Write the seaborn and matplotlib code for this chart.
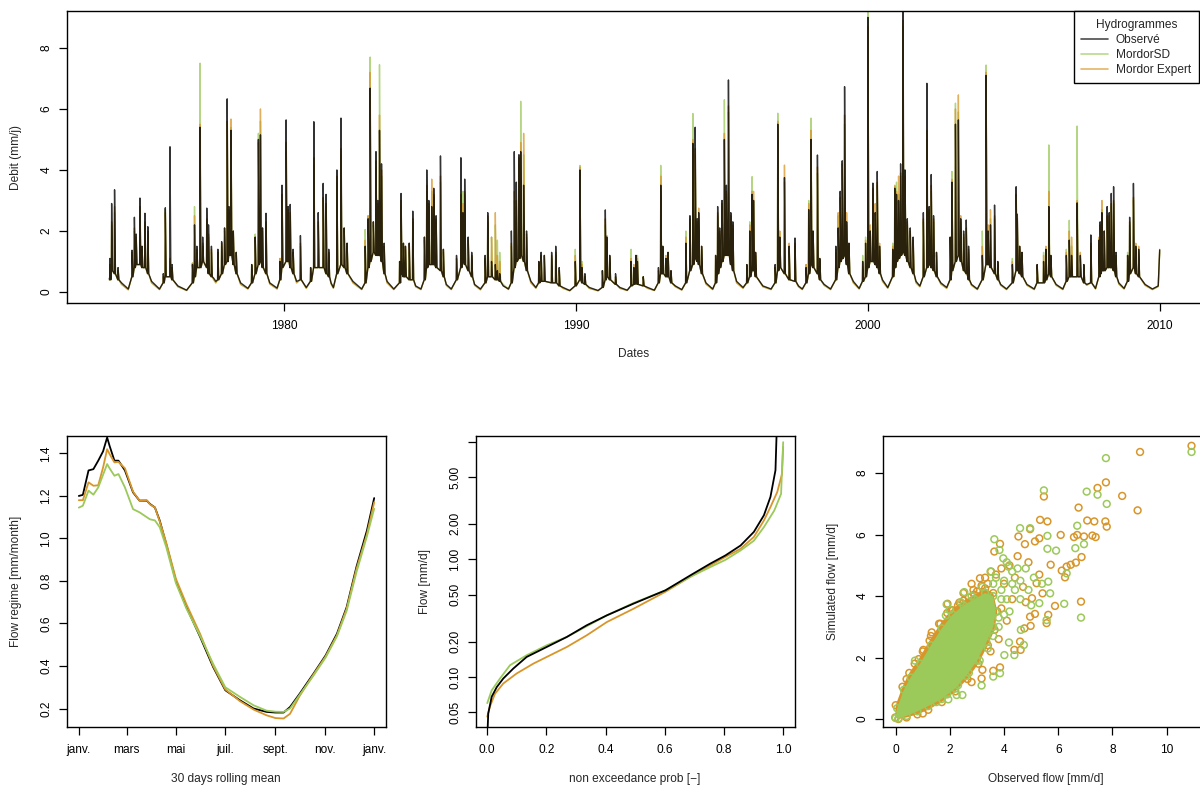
import numpy as np
import pandas as pd
import matplotlib
matplotlib.use("Agg")
import matplotlib.pyplot as plt
from matplotlib.lines import Line2D
import seaborn as sns

# ─────────────────────────────────────────────
# Couleurs
# ─────────────────────────────────────────────
C_OBS = "black"
C_SD = "#9BC95A"
C_EXP = "#D8962A"

# ─────────────────────────────────────────────
# Hydrogrammes : crues (date, pic obs / MordorSD / Mordor Expert, débit de base)
# ─────────────────────────────────────────────
ev_t = [
    1974.02, 1974.08, 1974.18, 1974.30, 1974.78, 1974.86, 1974.92, 1975.05, 1975.12, 1975.22, 1975.32,
    1975.85, 1975.92, 1976.08, 1976.15,
    1976.85, 1976.92, 1977.00, 1977.11, 1977.20, 1977.34, 1977.40, 1977.50, 1977.72, 1977.85, 1977.95,
    1978.04, 1978.10, 1978.17, 1978.25, 1978.35,
    1978.88, 1979.00, 1979.11, 1979.18, 1979.25, 1979.37,
    1979.85, 1979.92, 1980.06, 1980.13, 1980.20, 1980.30, 1980.55,
    1980.90, 1981.01, 1981.16, 1981.33, 1981.43, 1981.52,
    1981.80, 1981.94, 1982.05, 1982.15,
    1982.77, 1982.87, 1982.94, 1983.05, 1983.14, 1983.20, 1983.26, 1983.33, 1983.42,
    1983.95, 1984.00, 1984.08, 1984.15, 1984.28, 1984.40,
    1984.80, 1984.88, 1984.95, 1985.05, 1985.12, 1985.20, 1985.35, 1985.45,
    1985.90, 1986.05, 1986.12, 1986.18, 1986.30, 1986.42,
    1986.88, 1986.97, 1987.10, 1987.23, 1987.30, 1987.38,
    1987.78, 1987.88, 1987.95, 1988.04, 1988.10, 1988.20, 1988.30,
    1988.72, 1988.80, 1988.91, 1989.16, 1989.30, 1989.42,
    1989.97, 1990.13, 1990.20, 1990.30,
    1990.90, 1991.00, 1991.05, 1991.15, 1991.35,
    1991.88, 1991.98, 1992.05, 1992.10, 1992.30,
    1992.82, 1992.90, 1992.97, 1993.08, 1993.15, 1993.25,
    1993.76, 1993.90, 1994.00, 1994.08, 1994.15, 1994.20, 1994.30,
    1994.78, 1994.85, 1994.92, 1995.00, 1995.08, 1995.15, 1995.22, 1995.30, 1995.37,
    1995.85, 1995.95, 1996.03, 1996.08, 1996.15,
    1996.82, 1996.91, 1996.98, 1997.14, 1997.30, 1997.50,
    1997.88, 1997.97, 1998.05, 1998.12, 1998.27, 1998.35,
    1998.90, 1998.98, 1999.05, 1999.12, 1999.20, 1999.27, 1999.35,
    1999.82, 1999.92, 2000.00, 2000.08, 2000.17, 2000.25, 2000.32, 2000.40,
    2000.85, 2000.92, 2000.98, 2001.05, 2001.12, 2001.20, 2001.27, 2001.35, 2001.45, 2001.55,
    2001.90, 2002.02, 2002.10, 2002.17, 2002.25, 2002.35,
    2002.82, 2002.88, 2003.00, 2003.10, 2003.18, 2003.28, 2003.37, 2003.45,
    2003.92, 2004.05, 2004.12, 2004.20, 2004.34, 2004.45,
    2004.95, 2005.08, 2005.12, 2005.20, 2005.28,
    2005.80, 2006.02, 2006.10, 2006.20, 2006.27,
    2006.80, 2006.90, 2006.98, 2007.17, 2007.28, 2007.40, 2007.64,
    2007.92, 2007.96, 2008.02, 2008.10, 2008.20, 2008.27, 2008.34, 2008.42, 2008.50,
    2008.90, 2008.97, 2009.10, 2009.18, 2009.28,
]
ev_obs = [
    1.1, 2.9, 3.35, 0.8, 1.37, 2.45, 1.9, 3.08, 1.5, 2.58, 2.14,
    0.6, 2.76, 4.76, 0.9,
    0.9, 2.2, 1.5, 5.4, 1.8, 2.75, 2.2, 1.5, 1.4, 1.65, 2.1,
    6.33, 2.8, 5.3, 2.0, 1.3,
    0.9, 1.8, 5.0, 5.15, 2.1, 2.58,
    1.0, 3.5, 5.64, 2.8, 2.87, 1.4, 1.85,
    0.8, 5.58, 2.6, 3.56, 3.2, 1.4,
    4.0, 5.7, 2.1, 1.6,
    1.5, 2.4, 6.68, 2.3, 4.6, 3.0, 5.3, 4.2, 1.6,
    1.0, 3.23, 1.6, 1.5, 1.6, 2.65,
    1.8, 4.0, 3.0, 2.8, 3.4, 2.5, 4.46, 1.4,
    1.2, 4.4, 2.6, 3.7, 1.8, 1.3,
    1.2, 2.6, 1.0, 0.9, 0.7, 0.6,
    2.0, 4.6, 3.6, 4.5, 4.6, 3.5, 2.0,
    1.0, 1.3, 1.2, 1.3, 1.5, 0.8,
    1.0, 4.0, 0.8, 0.6,
    0.7, 2.69, 1.8, 1.2, 0.6,
    1.0, 0.8, 1.2, 1.0, 0.5,
    0.8, 3.5, 1.5, 1.1, 1.3, 0.7,
    1.6, 2.5, 4.87, 5.4, 2.4, 2.6, 1.5,
    1.2, 2.8, 2.1, 3.0, 5.0, 3.5, 6.95, 2.6, 2.3,
    0.9, 2.0, 3.2, 3.0, 1.3,
    0.9, 5.5, 1.8, 3.75, 1.5, 1.77,
    0.8, 2.7, 5.0, 2.0, 4.49, 1.1,
    1.5, 2.1, 3.3, 4.3, 6.73, 2.3, 1.6,
    1.0, 1.6, 9.0, 2.0, 3.57, 2.6, 3.95, 1.5,
    1.4, 3.4, 3.2, 3.0, 4.2, 10.9, 4.0, 2.4, 2.1, 1.8,
    2.6, 6.84, 2.8, 3.85, 2.5, 1.3,
    1.8, 3.6, 5.5, 5.64, 2.4, 2.0, 2.36, 1.5,
    1.2, 7.1, 2.0, 2.2, 2.85, 1.0,
    0.9, 3.45, 2.55, 1.5, 1.3,
    0.9, 1.0, 1.4, 2.8, 1.2,
    1.2, 1.7, 1.2, 2.92, 1.2, 0.9, 1.87,
    1.7, 2.3, 2.6, 2.0, 2.8, 2.6, 3.23, 3.45, 1.3,
    1.2, 2.45, 3.56, 1.5, 1.4,
]
ev_sd = [
    0.9, 2.2, 2.6, 0.7, 1.2, 2.0, 1.7, 2.5, 1.4, 2.2, 1.9,
    0.5, 2.7, 1.0, 0.8,
    0.95, 2.8, 1.3, 7.5, 1.5, 2.3, 1.8, 1.3, 1.3, 1.5, 2.0,
    5.3, 2.6, 5.4, 1.9, 1.2,
    0.9, 1.9, 5.2, 5.6, 2.0, 2.2,
    1.1, 3.0, 4.6, 2.6, 2.5, 1.3, 1.5,
    0.8, 4.2, 2.2, 3.0, 2.8, 1.3,
    3.6, 4.5, 2.0, 1.5,
    2.05, 2.5, 7.7, 2.2, 4.1, 2.8, 7.45, 3.8, 1.4,
    1.0, 2.8, 1.5, 1.4, 1.3, 2.3,
    1.7, 3.3, 2.8, 3.3, 3.1, 2.3, 3.6, 1.3,
    1.1, 3.0, 3.3, 3.2, 1.6, 1.2,
    1.0, 2.3, 1.8, 2.2, 1.7, 1.3,
    1.5, 3.0, 2.8, 4.2, 6.25, 4.5, 1.8,
    0.9, 1.2, 1.1, 1.1, 1.2, 0.7,
    1.4, 4.15, 1.0, 0.5,
    0.7, 2.2, 1.6, 1.1, 0.5,
    1.4, 0.8, 1.1, 1.2, 0.5,
    0.7, 4.15, 1.4, 1.0, 1.1, 0.6,
    2.0, 2.3, 5.85, 4.5, 2.2, 2.4, 1.4,
    1.1, 2.5, 1.9, 2.8, 6.3, 3.2, 5.9, 2.3, 2.1,
    0.8, 2.3, 3.78, 3.0, 1.2,
    0.8, 5.86, 1.7, 3.6, 1.3, 1.5,
    0.9, 3.0, 5.7, 1.9, 3.9, 1.0,
    1.4, 2.5, 3.0, 4.0, 5.5, 2.2, 1.5,
    1.2, 1.8, 9.4, 2.0, 3.2, 2.4, 3.5, 1.4,
    1.6, 3.45, 3.6, 3.2, 3.8, 8.7, 4.0, 2.2, 1.9, 1.6,
    2.3, 5.0, 2.6, 3.3, 2.3, 1.2,
    1.7, 3.95, 6.19, 5.9, 2.3, 1.8, 2.0, 1.3,
    2.0, 7.44, 1.9, 2.4, 2.4, 0.9,
    1.1, 3.0, 2.3, 1.4, 1.2,
    0.8, 1.3, 1.4, 4.82, 1.1,
    1.4, 2.35, 1.5, 5.44, 1.1, 0.8, 1.5,
    1.6, 2.1, 2.7, 1.8, 2.4, 2.3, 2.8, 2.9, 1.1,
    1.3, 2.2, 3.0, 1.4, 1.3,
]
ev_exp = [
    0.9, 2.3, 2.8, 0.7, 1.3, 2.1, 1.8, 2.8, 1.5, 2.3, 2.0,
    0.5, 2.6, 1.1, 0.8,
    0.95, 2.5, 1.4, 5.5, 1.6, 2.4, 1.9, 1.4, 1.3, 1.6, 2.1,
    5.6, 2.7, 5.67, 2.0, 1.3,
    0.9, 1.8, 4.9, 6.0, 2.1, 2.3,
    1.1, 3.2, 4.9, 2.7, 2.6, 1.3, 1.6,
    0.8, 4.4, 2.3, 3.1, 2.9, 1.3,
    3.8, 4.7, 2.1, 1.6,
    1.7, 2.5, 7.2, 2.3, 4.3, 2.9, 5.8, 4.0, 1.5,
    1.0, 3.0, 1.6, 1.5, 1.6, 2.4,
    1.8, 3.5, 2.9, 3.7, 3.2, 2.4, 3.8, 1.4,
    1.1, 3.2, 2.9, 3.3, 1.7, 1.2,
    1.1, 2.5, 1.8, 2.6, 1.2, 1.0,
    1.6, 3.3, 3.0, 4.4, 4.9, 5.2, 1.9,
    1.0, 1.2, 1.2, 1.2, 1.3, 0.7,
    1.2, 4.1, 0.9, 0.5,
    0.7, 2.4, 1.85, 1.2, 0.5,
    1.1, 0.9, 1.2, 1.1, 0.5,
    0.7, 3.8, 1.5, 1.2, 1.3, 0.7,
    1.8, 2.4, 5.0, 4.7, 2.3, 2.75, 1.5,
    1.2, 2.6, 2.0, 2.9, 5.2, 3.3, 6.1, 2.5, 2.2,
    0.9, 2.2, 3.3, 3.3, 1.3,
    0.8, 5.6, 2.0, 4.16, 1.6, 1.6,
    0.9, 2.9, 5.3, 2.0, 4.1, 1.1,
    1.3, 2.6, 3.1, 4.2, 5.8, 2.6, 1.6,
    1.0, 1.7, 8.7, 2.2, 3.4, 2.9, 3.6, 1.6,
    1.5, 3.5, 3.3, 3.8, 3.9, 8.9, 3.8, 2.3, 2.0, 1.7,
    2.4, 5.3, 2.7, 3.5, 2.4, 1.3,
    1.8, 3.7, 6.0, 6.46, 2.5, 1.9, 2.1, 1.4,
    1.5, 7.2, 2.2, 2.7, 2.5, 1.0,
    1.0, 3.2, 2.4, 1.5, 1.3,
    0.9, 1.2, 1.5, 3.3, 1.2,
    1.3, 2.0, 1.8, 3.0, 1.3, 0.9, 1.6,
    1.8, 2.2, 3.0, 2.0, 2.5, 2.5, 2.9, 3.0, 1.2,
    1.2, 2.3, 3.1, 1.6, 1.5,
]
ev_base = [
    0.4, 0.7, 0.6, 0.4, 0.5, 0.8, 0.9, 0.9, 0.8, 0.8, 0.6,
    0.3, 0.5, 0.5, 0.4,
    0.3, 0.5, 0.8, 0.8, 1.0, 0.8, 0.6, 0.5, 0.4, 0.6, 0.9,
    1.0, 1.2, 1.2, 0.9, 0.6,
    0.3, 0.6, 0.9, 1.0, 0.8, 0.6,
    0.4, 0.8, 1.0, 1.0, 0.8, 0.6, 0.4,
    0.35, 0.8, 0.8, 0.8, 0.6, 0.5,
    0.6, 0.9, 0.8, 0.6,
    0.3, 0.8, 1.0, 1.3, 1.2, 1.2, 1.2, 1.0, 0.6,
    0.3, 0.6, 0.5, 0.5, 0.4, 0.4,
    0.4, 0.8, 0.9, 0.9, 0.9, 0.8, 0.7, 0.5,
    0.4, 0.8, 1.0, 0.9, 0.7, 0.5,
    0.3, 0.5, 0.5, 0.4, 0.4, 0.35,
    0.3, 0.8, 1.0, 1.1, 1.2, 1.0, 0.7,
    0.3, 0.35, 0.35, 0.3, 0.3, 0.2,
    0.2, 0.4, 0.3, 0.25,
    0.15, 0.4, 0.5, 0.4, 0.25,
    0.2, 0.25, 0.3, 0.25, 0.2,
    0.3, 0.6, 0.6, 0.5, 0.5, 0.3,
    0.3, 0.7, 0.9, 1.1, 1.0, 0.9, 0.6,
    0.3, 0.6, 0.8, 1.0, 1.2, 1.2, 1.2, 0.9, 0.7,
    0.3, 0.5, 0.7, 0.7, 0.5,
    0.3, 0.7, 0.8, 0.6, 0.4, 0.35,
    0.3, 0.6, 0.9, 0.8, 0.6, 0.4,
    0.4, 0.8, 1.0, 1.1, 1.2, 0.9, 0.6,
    0.35, 0.5, 0.8, 1.0, 1.0, 0.9, 0.8, 0.6,
    0.5, 0.8, 1.0, 1.1, 1.2, 1.3, 1.2, 1.0, 0.8, 0.6,
    0.5, 0.8, 0.9, 0.8, 0.7, 0.5,
    0.4, 0.7, 1.0, 1.2, 1.0, 0.7, 0.6, 0.4,
    0.4, 0.9, 0.9, 0.8, 0.6, 0.4,
    0.3, 0.7, 0.7, 0.6, 0.5,
    0.3, 0.3, 0.4, 0.6, 0.5,
    0.35, 0.5, 0.5, 0.5, 0.5, 0.3, 0.3,
    0.5, 0.6, 0.7, 0.7, 0.8, 0.8, 0.8, 0.7, 0.5,
    0.35, 0.6, 0.8, 0.6, 0.5,
]

# étiages (début / fin de série et minima d'été)
low_t = [
    1974.00, 1974.42, 1974.65, 1975.45, 1975.72, 1976.35, 1976.65, 1977.58, 1977.65,
    1978.50, 1978.75, 1979.50, 1979.75, 1980.42, 1980.75, 1981.60, 1981.68, 1982.35,
    1982.65, 1983.52, 1983.75, 1984.50, 1984.68, 1985.55, 1985.72, 1986.52, 1986.72,
    1987.50, 1987.68, 1988.45, 1988.62, 1989.55, 1989.78, 1990.45, 1990.75, 1991.50,
    1991.75, 1992.45, 1992.68, 1993.40, 1993.62, 1994.45, 1994.68, 1995.50, 1995.72,
    1996.40, 1996.68, 1997.62, 1997.75, 1998.50, 1998.72, 1999.50, 1999.70, 2000.50,
    2000.68, 2001.65, 2001.78, 2002.50, 2002.70, 2003.55, 2003.75, 2004.55, 2004.75,
    2005.45, 2005.70, 2006.45, 2006.68, 2007.50, 2007.80, 2008.60, 2008.78, 2009.50,
    2009.75, 2009.95, 2010.00,
]
low_obs = [
    0.45, 0.30, 0.10, 0.35, 0.10, 0.20, 0.06, 0.45, 0.35,
    0.30, 0.12, 0.30, 0.13, 0.35, 0.15, 0.30, 0.15, 0.35,
    0.10, 0.35, 0.10, 0.20, 0.10, 0.25, 0.10, 0.25, 0.10,
    0.20, 0.10, 0.35, 0.15, 0.15, 0.05, 0.15, 0.05, 0.15,
    0.06, 0.15, 0.06, 0.20, 0.08, 0.30, 0.10, 0.35, 0.15,
    0.20, 0.10, 0.20, 0.10, 0.25, 0.10, 0.35, 0.12, 0.40,
    0.15, 0.35, 0.20, 0.30, 0.15, 0.25, 0.10, 0.25, 0.10,
    0.25, 0.10, 0.25, 0.10, 0.25, 0.12, 0.30, 0.12, 0.25,
    0.10, 0.20, 1.38,
]
low_sd = [
    0.40, 0.25, 0.08, 0.30, 0.08, 0.18, 0.05, 0.40, 0.30,
    0.25, 0.10, 0.27, 0.10, 0.30, 0.12, 0.27, 0.13, 0.30,
    0.08, 0.30, 0.08, 0.18, 0.08, 0.22, 0.08, 0.22, 0.08,
    0.25, 0.10, 0.30, 0.13, 0.12, 0.04, 0.12, 0.04, 0.12,
    0.05, 0.12, 0.05, 0.18, 0.07, 0.26, 0.08, 0.30, 0.12,
    0.18, 0.08, 0.18, 0.08, 0.22, 0.08, 0.30, 0.10, 0.35,
    0.13, 0.30, 0.18, 0.26, 0.12, 0.22, 0.08, 0.22, 0.08,
    0.22, 0.08, 0.22, 0.08, 0.22, 0.10, 0.26, 0.10, 0.22,
    0.08, 0.18, 1.30,
]
low_exp = [
    0.40, 0.25, 0.07, 0.30, 0.08, 0.17, 0.05, 0.40, 0.30,
    0.25, 0.10, 0.26, 0.10, 0.30, 0.12, 0.27, 0.12, 0.30,
    0.08, 0.30, 0.08, 0.17, 0.08, 0.22, 0.08, 0.22, 0.07,
    0.22, 0.08, 0.30, 0.12, 0.12, 0.04, 0.12, 0.04, 0.12,
    0.05, 0.12, 0.05, 0.17, 0.06, 0.26, 0.08, 0.30, 0.12,
    0.17, 0.08, 0.17, 0.08, 0.22, 0.08, 0.30, 0.10, 0.35,
    0.12, 0.30, 0.17, 0.26, 0.12, 0.22, 0.08, 0.22, 0.08,
    0.22, 0.08, 0.22, 0.08, 0.22, 0.10, 0.26, 0.10, 0.22,
    0.08, 0.18, 1.40,
]

# ─────────────────────────────────────────────
# Régime (moyenne glissante 30 jours)
# ─────────────────────────────────────────────
reg_day = [0, 5, 12, 18, 24, 30, 35, 38, 44, 49, 57, 67, 75, 84, 88, 94, 100, 108, 120,
           133, 150, 166, 181, 199, 216, 232, 243, 253, 261, 273, 290, 305, 319, 331, 343, 356, 365]
reg_obs = [1.20, 1.205, 1.32, 1.326, 1.366, 1.41, 1.475, 1.436, 1.366, 1.366, 1.32, 1.217, 1.178,
           1.178, 1.162, 1.146, 1.084, 0.974, 0.80, 0.677, 0.536, 0.395, 0.286, 0.239, 0.20, 0.184,
           0.181, 0.181, 0.207, 0.27, 0.364, 0.45, 0.552, 0.677, 0.865, 1.037, 1.19]
reg_exp = [1.18, 1.18, 1.264, 1.248, 1.25, 1.334, 1.42, 1.397, 1.358, 1.36, 1.33, 1.22, 1.178,
           1.18, 1.16, 1.146, 1.08, 0.98, 0.81, 0.69, 0.55, 0.40, 0.29, 0.235, 0.195, 0.168,
           0.155, 0.153, 0.175, 0.26, 0.36, 0.445, 0.545, 0.67, 0.855, 1.02, 1.17]
reg_sd = [1.145, 1.154, 1.225, 1.206, 1.24, 1.30, 1.35, 1.33, 1.295, 1.303, 1.24, 1.138, 1.123,
          1.10, 1.09, 1.085, 1.053, 0.96, 0.79, 0.67, 0.54, 0.41, 0.30, 0.255, 0.215, 0.19,
          0.185, 0.184, 0.20, 0.265, 0.355, 0.44, 0.54, 0.66, 0.84, 1.01, 1.14]
month_days = [0, 59, 120, 181, 243, 304, 365]
month_labels = ["janv.", "mars", "mai", "juil.", "sept.", "nov.", "janv."]

# ─────────────────────────────────────────────
# Courbes des débits classés
# ─────────────────────────────────────────────
fdc_p_obs = [0.0, 0.0034, 0.015, 0.032, 0.054, 0.088, 0.133, 0.201, 0.269, 0.336, 0.404, 0.494,
             0.602, 0.686, 0.754, 0.805, 0.856, 0.901, 0.935, 0.957, 0.974, 0.977, 0.978]
fdc_obs = [0.03, 0.049, 0.068, 0.082, 0.097, 0.118, 0.148, 0.18, 0.219, 0.275, 0.334, 0.42,
           0.545, 0.73, 0.92, 1.08, 1.31, 1.71, 2.37, 3.39, 5.71, 10.0, 12.0]
fdc_p_exp = [0.0, 0.009, 0.026, 0.054, 0.099, 0.156, 0.201, 0.269, 0.336, 0.404, 0.494, 0.602,
             0.686, 0.754, 0.805, 0.856, 0.901, 0.935, 0.957, 0.98, 0.996, 1.0]
fdc_exp = [0.046, 0.056, 0.072, 0.088, 0.107, 0.13, 0.148, 0.18, 0.226, 0.293, 0.38, 0.53,
           0.71, 0.89, 1.05, 1.23, 1.55, 2.14, 2.78, 3.73, 5.3, 9.0]
fdc_p_sd = [0.0, 0.015, 0.043, 0.077, 0.133, 0.201, 0.269, 0.336, 0.404, 0.494, 0.602, 0.686,
            0.754, 0.805, 0.856, 0.901, 0.935, 0.97, 0.993, 0.996, 1.0]
fdc_sd = [0.06, 0.077, 0.097, 0.126, 0.153, 0.186, 0.219, 0.27, 0.334, 0.425, 0.545, 0.71,
          0.86, 0.99, 1.19, 1.44, 1.88, 2.6, 3.6, 5.7, 9.9]
fdc_ticks = [0.05, 0.10, 0.20, 0.50, 1.00, 2.00, 5.00, 10.0]
fdc_tick_labels = ["0.05", "0.10", "0.20", "0.50", "1.00", "2.00", "5.00", ""]

# ─────────────────────────────────────────────
# Nuage obs / sim : points isolés lus + enveloppe du noyau dense
# ─────────────────────────────────────────────
sc_exp_x = [10.92, 9.02, 7.76, 7.45, 8.36, 8.93, 6.75, 5.47, 5.33, 5.60, 7.07, 7.33, 7.74, 7.79,
            6.09, 6.58, 6.70, 6.95, 7.26, 7.38, 6.86, 6.65, 6.46, 6.31, 6.13, 6.25, 5.72, 5.30,
            5.14, 4.96, 4.77, 4.53, 3.85, 3.64, 3.52, 3.11, 6.84, 5.88, 5.63, 5.57, 5.14, 4.96,
            4.98, 4.75, 4.59, 4.38, 4.61, 5.42, 5.03, 5.20, 3.85, 3.60, 3.17, 1.33, 1.02, 1.91,
            2.10, 2.35, 2.87, 3.17, 1.00, 4.20, 4.40, 4.00, 4.70, 3.90, 4.50, 4.90, 5.30, 4.80,
            4.30, 1.60, 1.90, 2.30, 2.70, 3.00, 3.40, 2.50, 2.80, 3.30, 3.70, 1.30, 1.00, 0.70,
            0.40, 3.90, 4.10, 3.80, 3.50, 3.20, 2.80]
sc_exp_y = [8.89, 8.69, 7.70, 7.52, 7.26, 6.79, 6.88, 7.24, 6.48, 6.43, 6.46, 6.43, 6.43, 6.26,
            5.99, 5.92, 5.99, 5.94, 5.97, 5.92, 5.27, 5.09, 5.02, 4.96, 4.83, 4.61, 5.02, 5.88,
            5.78, 6.18, 5.69, 5.94, 5.70, 5.45, 4.80, 4.58, 3.82, 3.68, 3.39, 3.12, 3.42, 3.33,
            3.03, 2.95, 2.52, 2.25, 2.25, 4.09, 3.93, 4.42, 1.68, 1.57, 1.32, 2.82, 2.25, 3.75,
            3.53, 3.79, 4.20, 4.34, 0.18, 5.00, 4.60, 4.40, 4.30, 4.90, 5.30, 5.10, 4.70, 3.80,
            3.90, 3.10, 3.45, 3.70, 3.95, 4.15, 4.40, 4.10, 4.40, 4.60, 4.70, 2.70, 2.20, 1.80,
            1.30, 3.60, 3.20, 2.60, 2.20, 1.60, 1.20]
sc_sd_x = [10.92, 7.76, 5.47, 7.05, 7.45, 7.79, 6.70, 4.59, 4.96, 5.60, 6.95, 6.63, 3.64, 3.83,
           5.60, 5.92, 6.31, 5.63, 5.70, 5.30, 6.22, 6.84, 5.57, 4.62, 4.73, 4.38, 4.01, 4.18,
           3.60, 3.85, 3.17, 1.94, 2.25, 2.46, 1.88, 1.85, 2.53, 0.71, 3.97, 4.16, 4.10, 4.30,
           4.60, 4.90, 5.10, 4.00, 4.40, 3.90, 4.60, 5.00, 4.20, 3.80, 4.80, 5.40, 3.70, 2.00,
           2.40, 2.80, 3.20, 3.60, 3.90, 4.10, 4.00, 3.80, 3.60, 3.40, 3.10, 2.70, 2.30, 1.90,
           1.50, 4.30, 3.50, 4.50]
sc_sd_y = [8.69, 8.49, 7.44, 7.40, 7.30, 7.00, 6.29, 6.21, 6.21, 5.96, 5.69, 5.56, 5.85, 5.50,
           5.54, 5.48, 4.74, 4.47, 4.09, 3.77, 3.75, 3.30, 3.22, 2.90, 2.41, 2.08, 2.08, 2.49,
           1.38, 1.49, 1.09, 0.64, 0.78, 0.78, 3.73, 3.37, 4.13, 1.90, 5.23, 4.96, 5.10, 4.80,
           4.50, 4.20, 4.60, 4.50, 4.20, 3.90, 3.90, 3.70, 3.50, 3.30, 4.90, 4.40, 4.60, 3.55,
           3.80, 4.00, 4.30, 4.40, 4.20, 3.90, 3.40, 3.00, 2.70, 2.30, 1.90, 1.50, 1.10, 0.80,
           0.55, 4.40, 4.80, 4.90]
core_sd_x = [0.0, 0.05, 0.3, 0.55, 0.9, 1.3, 1.7, 2.1, 2.5, 2.9, 3.3, 3.6, 3.7, 3.6, 3.35, 3.0,
             2.6, 2.2, 1.7, 1.2, 0.8, 0.4, 0.1]
core_sd_y = [0.03, 0.35, 0.95, 1.35, 1.8, 2.4, 2.95, 3.4, 3.7, 3.9, 4.1, 4.0, 3.5, 3.0, 2.5, 1.9,
             1.4, 1.0, 0.65, 0.42, 0.25, 0.1, 0.02]
core_exp_x = [-0.02, 0.0, 0.25, 0.5, 0.85, 1.25, 1.65, 2.05, 2.5, 2.9, 3.3, 3.6, 3.75, 3.65, 3.4,
              3.05, 2.65, 2.2, 1.7, 1.2, 0.8, 0.4, 0.1]
core_exp_y = [0.05, 0.45, 1.05, 1.5, 1.95, 2.55, 3.1, 3.55, 3.85, 4.05, 4.25, 4.1, 3.5, 2.9, 2.4,
              1.8, 1.3, 0.9, 0.55, 0.3, 0.15, 0.05, 0.0]


def hydro_nodes(peaks, lows):
    """Série de noeuds (crue + débit de base de part et d'autre) triée dans le temps."""
    t, q = [], []
    for ti, qp, qb in zip(ev_t, peaks, ev_base):
        t += [ti - 0.008, ti, ti + 0.03]
        q += [qb, qp, qb]
    t += low_t
    q += lows
    return pd.DataFrame({"t": t, "q": q}).sort_values("t")


# ─────────────────────────────────────────────
# Style
# ─────────────────────────────────────────────
sns.set_style("ticks")
plt.rcParams["font.family"] = ["Liberation Sans", "DejaVu Sans"]
plt.rcParams["font.size"] = 8.6
plt.rcParams["axes.edgecolor"] = "black"
plt.rcParams["axes.linewidth"] = 1.0

W, H = 1200, 787
fig = plt.figure(figsize=(W / 100, H / 100), dpi=100)


def px_axes(x0, x1, y0, y1):
    return fig.add_axes([x0 / W, 1 - y1 / H, (x1 - x0) / W, (y1 - y0) / H])


def style_axes(ax):
    ax.tick_params(axis="both", direction="out", length=5.5, width=0.9, colors="black",
                   labelsize=8.6, pad=5)
    ax.tick_params(axis="x", pad=7)
    ax.tick_params(axis="y", labelrotation=90)
    for lab in ax.get_yticklabels():
        lab.set_va("center")
    for s in ax.spines.values():
        s.set_color("black")
        s.set_linewidth(1.0)


# ── Hydrogrammes ──
ax0 = px_axes(67, 1202, 11, 303)
for peaks, lows, col, a in [(ev_sd, low_sd, C_SD, 0.75), (ev_exp, low_exp, C_EXP, 0.75),
                            (ev_obs, low_obs, C_OBS, 0.8)]:
    d = hydro_nodes(peaks, lows)
    sns.lineplot(data=d, x="t", y="q", ax=ax0, color=col, lw=1.0, alpha=a,
                 sort=False, estimator=None)
ax0.set_xlim(1972.55, 2011.45)
ax0.set_ylim(-0.36, 9.21)
ax0.set_xticks([1980, 1990, 2000, 2010])
ax0.set_yticks([0, 2, 4, 6, 8])
ax0.set_xlabel("")
ax0.set_ylabel("")
style_axes(ax0)
handles = [Line2D([], [], color=C_OBS, lw=1.2, alpha=0.7),
           Line2D([], [], color=C_SD, lw=1.2, alpha=0.7),
           Line2D([], [], color=C_EXP, lw=1.2, alpha=0.7)]
leg = ax0.legend(handles, ["Observé", "MordorSD", "Mordor Expert"], title="Hydrogrammes",
                 loc="upper right", bbox_to_anchor=(1199 / W, 1 - 11 / H),
                 bbox_transform=fig.transFigure, borderaxespad=0, fancybox=False,
                 framealpha=1, edgecolor="black", fontsize=8.6, title_fontsize=8.6,
                 handlelength=2.2, handletextpad=0.7, labelspacing=0.25, borderpad=0.65)
leg.get_frame().set_linewidth(1.0)
fig.text(634 / W, 1 - 354 / H, "Dates", ha="center", va="center", fontsize=8.6)
fig.text(16 / W, 1 - 157 / H, "Debit (mm/j)", ha="center", va="center", rotation=90,
         fontsize=8.6)

# ── Régime ──
ax1 = px_axes(67, 386, 436, 727)
for vals, col in [(reg_obs, C_OBS), (reg_exp, C_EXP), (reg_sd, C_SD)]:
    sns.lineplot(x=reg_day, y=vals, ax=ax1, color=col, lw=1.3, sort=False, estimator=None)
ax1.set_xlim(-14.6, 379.6)
ax1.set_ylim(0.113, 1.482)
ax1.set_xticks(month_days)
ax1.set_xticklabels(month_labels)
ax1.set_yticks([0.2, 0.4, 0.6, 0.8, 1.0, 1.2, 1.4])
style_axes(ax1)
fig.text(226 / W, 1 - 779 / H, "30 days rolling mean", ha="center", va="center", fontsize=8.6)
fig.text(16 / W, 1 - 581 / H, "Flow regime [mm/month]", ha="center", va="center",
         rotation=90, fontsize=8.6)

# ── Débits classés ──
ax2 = px_axes(476, 795, 436, 727)
for p, vals, col in [(fdc_p_exp, fdc_exp, C_EXP), (fdc_p_sd, fdc_sd, C_SD),
                     (fdc_p_obs, fdc_obs, C_OBS)]:
    sns.lineplot(x=p, y=vals, ax=ax2, color=col, lw=1.3, sort=False, estimator=None)
ax2.set_yscale("log")
ax2.set_xlim(-0.038, 1.04)
ax2.set_ylim(0.0376, 11.17)
ax2.set_xticks([0.0, 0.2, 0.4, 0.6, 0.8, 1.0])
ax2.set_xticklabels(["0.0", "0.2", "0.4", "0.6", "0.8", "1.0"])
ax2.set_yticks(fdc_ticks)
ax2.set_yticklabels(fdc_tick_labels)
ax2.yaxis.set_minor_locator(plt.NullLocator())
style_axes(ax2)
fig.text(635 / W, 1 - 779 / H, "non exceedance prob [\u2212]", ha="center", va="center",
         fontsize=8.6)
fig.text(425 / W, 1 - 581 / H, "Flow [mm/d]", ha="center", va="center", rotation=90,
         fontsize=8.6)

# ── Nuage de points ──
ax3 = px_axes(883, 1214, 436, 727)
ax3.fill(core_exp_x, core_exp_y, color=C_EXP, lw=0, zorder=1)
sns.scatterplot(x=core_exp_x, y=core_exp_y, ax=ax3, marker="o", s=24, facecolor="none",
                edgecolor=C_EXP, linewidth=1.1, zorder=2)
sns.scatterplot(x=sc_exp_x, y=sc_exp_y, ax=ax3, marker="o", s=24, facecolor="none",
                edgecolor=C_EXP, linewidth=1.1, zorder=2)
ax3.fill(core_sd_x, core_sd_y, color=C_SD, lw=0, zorder=3)
sns.scatterplot(x=core_sd_x, y=core_sd_y, ax=ax3, marker="o", s=24, facecolor="none",
                edgecolor=C_SD, linewidth=1.1, zorder=4)
sns.scatterplot(x=sc_sd_x, y=sc_sd_y, ax=ax3, marker="o", s=24, facecolor="none",
                edgecolor=C_SD, linewidth=1.1, zorder=4)
ax3.set_xlim(-0.47, 11.75)
ax3.set_ylim(-0.26, 9.21)
ax3.set_xticks([0, 2, 4, 6, 8, 10])
ax3.set_yticks([0, 2, 4, 6, 8])
style_axes(ax3)
fig.text(1046 / W, 1 - 779 / H, "Observed flow [mm/d]", ha="center", va="center",
         fontsize=8.6)
fig.text(833 / W, 1 - 581 / H, "Simulated flow [mm/d]", ha="center", va="center",
         rotation=90, fontsize=8.6)

for ax in [ax0, ax1, ax2, ax3]:
    ax.set_xlabel("")
    ax.set_ylabel("")

fig.savefig("out.png", dpi=100)
